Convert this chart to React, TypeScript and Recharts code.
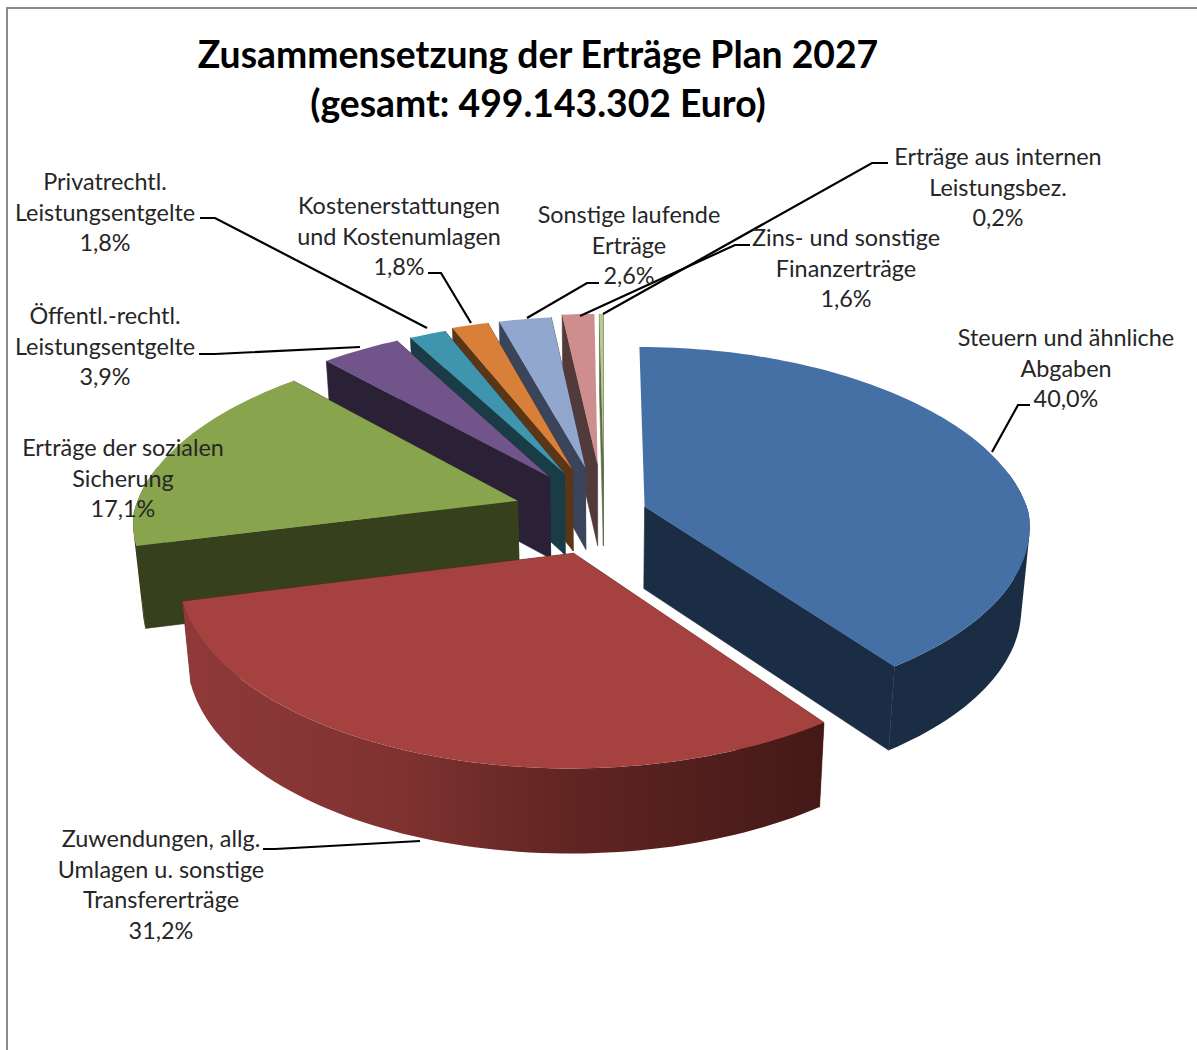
import { Pie, PieChart } from 'recharts';

// Reversed reading order: Recharts paints in data order, so the back slices come first
const categories = [
  'Erträge aus internen\nLeistungsbez.',
  'Zins- und sonstige\nFinanzerträge',
  'Sonstige laufende\nErträge',
  'Kostenerstattungen\nund Kostenumlagen',
  'Privatrechtl.\nLeistungsentgelte',
  'Öffentl.-rechtl.\nLeistungsentgelte',
  'Erträge der sozialen\nSicherung',
  'Zuwendungen, allg.\nUmlagen u. sonstige\nTransfererträge',
  'Steuern und ähnliche\nAbgaben',
];
const shares = [0.2, 1.6, 2.6, 1.8, 1.8, 3.9, 17.1, 31.2, 40.0];
const explosions = [106, 106, 100, 100, 95, 96, 91, 88, 43];

const topColors = ['#B6CC8E', '#CE8E8E', '#92A7CD', '#D8803A', '#3F95AE', '#71558A', '#88A44D', '#A5423F', '#4570A5'];
const sideColors = ['#5E6B47', '#533A3A', '#3A445A', '#5A3616', '#193C46', '#2B2137', '#37401C', '#5F2320', '#1A2D45'];

const labelCenters = [
  { x: 998, y: 157 },
  { x: 846, y: 238 },
  { x: 629, y: 215 },
  { x: 399, y: 206 },
  { x: 105, y: 182 },
  { x: 105, y: 316 },
  { x: 123, y: 448 },
  { x: 161, y: 839 },
  { x: 1066, y: 338 },
];
const leaders = [
  '888,163 872,163 603,314',
  '750,245 735,245 580,316',
  '599,283 587,283 527,318',
  '428,273 441,273 471,323',
  '200,218 215,218 427,328',
  '199,354 215,354 360,347',
  '',
  '263,849 275,849 420,841',
  '1030,405 1018,405 992,452',
];

const W = 1197;
const H = 1050;
const CX = 604;
const CY = 513;
const RADIUS = 384;
const TILT = 182;
const PERSPECTIVE_Y_BACK = 0.13;
const PERSPECTIVE_Y_FRONT = 0.11;
const PERSPECTIVE_X_BACK = 0.15;
const PERSPECTIVE_X_FRONT = 0.1;
const DEPTH = 82;
const FONT = 'Lato, sans-serif';

const chartData = categories.map((name, i) => ({ name, value: shares[i] }));

type Pt = { x: number; y: number };

const project = (u: number, v: number): Pt => ({
  x: CX + (RADIUS * u) / (1 + (v > 0 ? PERSPECTIVE_X_BACK : PERSPECTIVE_X_FRONT) * v),
  y: CY - (TILT * v) / (1 + (v > 0 ? PERSPECTIVE_Y_BACK : PERSPECTIVE_Y_FRONT) * v),
});

const lower = (u: number, v: number): Pt => {
  const p = project(u, v);
  return { x: CX + (p.x - CX) * 0.98, y: p.y + DEPTH / (1 + 0.03 * v) };
};

const toPath = (pts: Pt[]) =>
  'M' + pts.map((p) => `${p.x.toFixed(1)},${p.y.toFixed(1)}`).join('L') + 'Z';

// same winding for every quad, so they merge into one shape under the nonzero rule
const wound = (pts: Pt[]) => {
  const area = pts.reduce((sum, p, i) => {
    const q = pts[(i + 1) % pts.length];
    return sum + p.x * q.y - q.x * p.y;
  }, 0);
  return area < 0 ? [...pts].reverse() : pts;
};

function Slice3D(props: any) {
  const { startAngle, endAngle, index } = props;
  const rad = Math.PI / 180;
  const mid = ((startAngle + endAngle) / 2) * rad;
  const off = explosions[index] / RADIUS;
  const ou = Math.cos(mid) * off;
  const ov = Math.sin(mid) * off;

  const rim: [number, number][] = [];
  const front: [number, number][] = [];
  const steps = Math.max(2, Math.ceil((endAngle - startAngle) / 1.5));
  for (let s = 0; s <= steps; s++) {
    const a = (startAngle + ((endAngle - startAngle) * s) / steps) * rad;
    const pt: [number, number] = [Math.cos(a) + ou, Math.sin(a) + ov];
    rim.push(pt);
    // the back of the rim stays hidden behind the top face
    if (Math.sin(a) < 0.2) front.push(pt);
  }
  const first = rim[0];
  const last = rim[rim.length - 1];
  const top = rim.map(([u, v]) => project(u, v));
  const apexTop = project(ou, ov);
  const apexLow = lower(ou, ov);

  // the nearly vertical cut of a wide slice faces away from the viewer
  const showsCut = (pt: [number, number]) =>
    endAngle - startAngle < 5 || Math.abs(project(pt[0], pt[1]).x - apexTop.x) > 12;

  // one quad per rim step, so the wall keeps its tangent edge where it leaves the top face
  const wall = front
    .slice(1)
    .map(([u, v], i) => {
      const [pu, pv] = front[i];
      return toPath(wound([project(pu, pv), project(u, v), lower(u, v), lower(pu, pv)]));
    })
    .join('');

  const isRed = index === 7;
  const side = sideColors[index];
  const wallFill = isRed ? 'url(#redWall)' : side;
  return (
    <g>
      {isRed && (
        <defs>
          <linearGradient id="redWall" gradientUnits="userSpaceOnUse" x1={180} x2={825} y1={0} y2={0}>
            <stop offset="0%" stopColor="#90393A" />
            <stop offset="35%" stopColor="#7E3230" />
            <stop offset="60%" stopColor="#612522" />
            <stop offset="100%" stopColor="#431917" />
          </linearGradient>
        </defs>
      )}
      {[first, last].filter(showsCut).map((pt, i) => (
        <path
          key={i}
          d={toPath([apexTop, project(pt[0], pt[1]), lower(pt[0], pt[1]), apexLow])}
          fill={side}
          stroke={side}
          strokeWidth={0.6}
        />
      ))}
      {wall && <path d={wall} fill={wallFill} />}
      <path d={toPath([apexTop, ...top])} fill={topColors[index]} />
    </g>
  );
}

function SliceLabel(props: any) {
  const { index } = props;
  const lines = [
    ...categories[index].split('\n'),
    shares[index].toLocaleString('de-DE', { minimumFractionDigits: 1 }) + '%',
  ];
  const pos = labelCenters[index];
  return (
    <g>
      {leaders[index] && <polyline points={leaders[index]} fill="none" stroke="#000" strokeWidth={2.2} />}
      <text textAnchor="middle" fontFamily={FONT} fontSize={23.4} fill="#262626">
        {lines.map((line, i) => (
          <tspan key={i} x={pos.x} y={pos.y + 8 + i * 30.6}>
            {line}
          </tspan>
        ))}
      </text>
    </g>
  );
}

export default function App() {
  return (
    <div style={{ position: 'fixed', left: 0, top: 0, width: W, height: H, background: '#fff' }}>
      <div
        style={{
          position: 'absolute',
          left: 6,
          top: 7,
          width: W,
          height: H,
          borderLeft: '2px solid #8c8c8c',
          borderTop: '2px solid #8c8c8c',
        }}
      />
      <div style={{ position: 'absolute', left: 0, top: 0 }}>
        <PieChart width={W} height={H} margin={{ top: 0, right: 0, bottom: 0, left: 0 }}>
          <text textAnchor="middle" fontFamily={FONT} fontWeight={700} fontSize={37.3} fill="#000">
            <tspan x={538} y={68}>Zusammensetzung der Erträge Plan 2027</tspan>
            <tspan x={538} y={117}>(gesamt: 499.143.302 Euro)</tspan>
          </text>
          <Pie
            data={chartData}
            dataKey="value"
            nameKey="name"
            cx={CX}
            cy={CY}
            outerRadius={RADIUS}
            startAngle={90}
            endAngle={450}
            stroke="none"
            shape={Slice3D}
            label={SliceLabel}
            labelLine={false}
            isAnimationActive={false}
          />
        </PieChart>
      </div>
    </div>
  );
}
